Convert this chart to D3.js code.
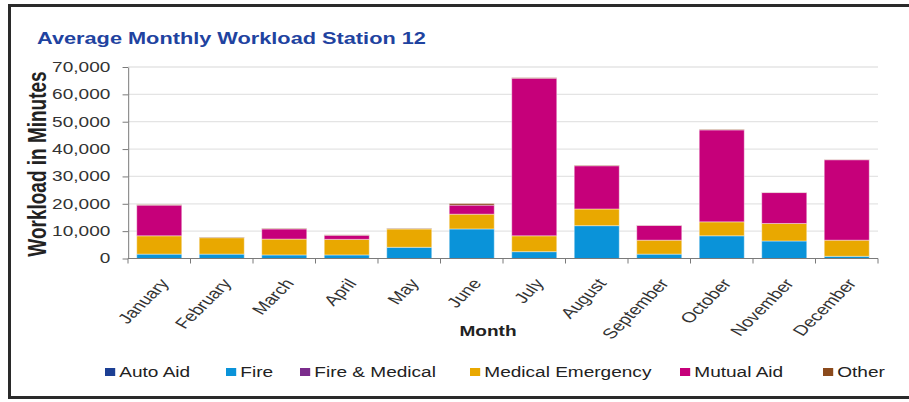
<!DOCTYPE html>
<meta charset="utf-8">
<html>
<head>
<style>
  body { margin: 0; background: #fff; }
  svg text { font-family: Arial, "Liberation Sans", sans-serif; }
</style>
</head>
<body>
<div id="chartContainer"></div>
<script src="https://cdn.jsdelivr.net/npm/d3@7"></script>
<script type="text/javascript">
  // data (minutes)
  var months = ["January", "February", "March", "April", "May", "June",
    "July", "August", "September", "October", "November", "December"];
  var seriesNames = ["Auto Aid", "Fire", "Fire & Medical", "Medical Emergency", "Mutual Aid", "Other"];
  var autoAid     = [0, 0, 0, 0, 0, 0, 0, 0, 0, 0, 0, 0];
  var fire        = [1600, 1600, 1300, 1300, 4100, 10800, 2500, 12000, 1600, 8300, 6400, 800];
  var fireMedical = [0, 0, 0, 0, 0, 0, 0, 0, 0, 0, 0, 0];
  var medical     = [6700, 6000, 5800, 5700, 6700, 5400, 5800, 6100, 5100, 5100, 6400, 5900];
  var mutualAid   = [11200, 0, 3700, 1500, 0, 3300, 57600, 15800, 5400, 33600, 11300, 29400];
  var other       = [200, 200, 200, 150, 200, 600, 200, 200, 100, 200, 100, 100];
  var yTicks = [0, 10000, 20000, 30000, 40000, 50000, 60000, 70000];

  var colors = ["#1c3f94", "#0a93d9", "#7b2c8c", "#e9a800", "#c6007a", "#8b4a1c"];

  // the picture is stretched sideways, so draw in narrow units and widen
  var SX = 1.36;
  var W = 909, H = 402;

  var svg = d3.select("#chartContainer").append("svg")
    .attr("width", W).attr("height", H);

  svg.append("rect")
    .attr("x", 9.5).attr("y", 5.5).attr("width", 910).attr("height", 392)
    .attr("fill", "none").attr("stroke", "#2a2a2a").attr("stroke-width", 3);

  var g = svg.append("g").attr("transform", "scale(" + SX + ",1)");

  var rows = months.map(function (m, i) {
    return { month: m, "Auto Aid": autoAid[i], "Fire": fire[i], "Fire & Medical": fireMedical[i],
      "Medical Emergency": medical[i], "Mutual Aid": mutualAid[i], "Other": other[i] };
  });
  var stacked = d3.stack().keys(seriesNames)(rows);

  var x = d3.scaleBand().domain(months)
    .range([128 / SX, 878 / SX]).paddingInner(0.28).paddingOuter(0.14);
  var y = d3.scaleLinear().domain([0, 70000]).range([258.5, 67]);

  // gridlines
  g.selectAll("line.grid").data(yTicks.slice(1)).enter().append("line")
    .attr("x1", x.range()[0]).attr("x2", x.range()[1])
    .attr("y1", function (d) { return y(d); }).attr("y2", function (d) { return y(d); })
    .attr("stroke", "#e4e4e4").attr("stroke-width", 1.3)
    .attr("vector-effect", "non-scaling-stroke");

  // bars
  var layers = g.selectAll("g.layer").data(stacked).enter().append("g")
    .attr("fill", function (d, i) { return colors[i]; });
  layers.selectAll("rect").data(function (d) { return d; }).enter().append("rect")
    .filter(function (d) { return d[1] - d[0] > 0; })
    .attr("x", function (d) { return x(d.data.month); })
    .attr("width", x.bandwidth())
    .attr("y", function (d) { return y(d[1]); })
    .attr("height", function (d) { return y(d[0]) - y(d[1]); })
    .attr("stroke", "#ffffff").attr("stroke-opacity", 0.5).attr("stroke-width", 0.8)
    .attr("vector-effect", "non-scaling-stroke");

  // y axis
  var yAxis = g.append("g").attr("transform", "translate(" + x.range()[0] + ",0)")
    .call(d3.axisLeft(y).tickValues(yTicks).tickFormat(d3.format(",")).tickSize(4).tickSizeOuter(0).tickPadding(9));
  yAxis.selectAll("path, line").attr("stroke", "#7a7a7a").attr("vector-effect", "non-scaling-stroke");
  yAxis.selectAll("text").attr("font-size", 14).attr("fill", "#333")
    .style("font-family", "Arial, 'Liberation Sans', sans-serif");

  // x axis with ticks on category boundaries
  var xg = g.append("g");
  xg.append("line")
    .attr("x1", x.range()[0]).attr("x2", x.range()[1])
    .attr("y1", y(0)).attr("y2", y(0))
    .attr("stroke", "#7a7a7a").attr("vector-effect", "non-scaling-stroke");
  xg.selectAll("line.tick").data(d3.range(months.length + 1)).enter().append("line")
    .attr("x1", function (i) { return x.range()[0] + i * x.step(); })
    .attr("x2", function (i) { return x.range()[0] + i * x.step(); })
    .attr("y1", y(0)).attr("y2", y(0) + 5)
    .attr("stroke", "#7a7a7a").attr("vector-effect", "non-scaling-stroke");
  xg.selectAll("text").data(months).enter().append("text")
    .attr("transform", function (d) {
      return "translate(" + (x(d) + x.bandwidth() / 2 + 5 / SX) + "," + (y(0) + 22) + ") rotate(-53)";
    })
    .attr("text-anchor", "end").attr("dy", "0.35em")
    .attr("font-size", 14.5).attr("fill", "#333")
    .text(function (d) { return d; });

  // titles
  g.append("text").attr("x", 37 / SX).attr("y", 44)
    .attr("font-size", 16).attr("font-weight", "bold").attr("fill", "#1f43a0")
    .text("Average Monthly Workload Station 12");
  g.append("text").attr("transform", "translate(" + (46 / SX) + ",164) rotate(-90)")
    .attr("text-anchor", "middle").attr("font-size", 19).attr("font-weight", "bold").attr("fill", "#222")
    .text("Workload in Minutes");
  g.append("text").attr("x", 488 / SX).attr("y", 336)
    .attr("text-anchor", "middle").attr("font-size", 14).attr("font-weight", "bold").attr("fill", "#222")
    .text("Month");

  // legend
  var legX = [105, 226, 300, 470, 680, 823];
  var leg = g.selectAll("g.legend").data(seriesNames).enter().append("g")
    .attr("transform", function (d, i) { return "translate(" + (legX[i] / SX) + ",372)"; });
  leg.append("rect").attr("x", 0).attr("y", -4).attr("width", 7.5).attr("height", 8)
    .attr("fill", function (d, i) { return colors[i]; });
  leg.append("text").attr("x", 10.5).attr("dy", "0.36em")
    .attr("font-size", 14).attr("fill", "#222")
    .text(function (d) { return d; });
</script>
</body>
</html>
